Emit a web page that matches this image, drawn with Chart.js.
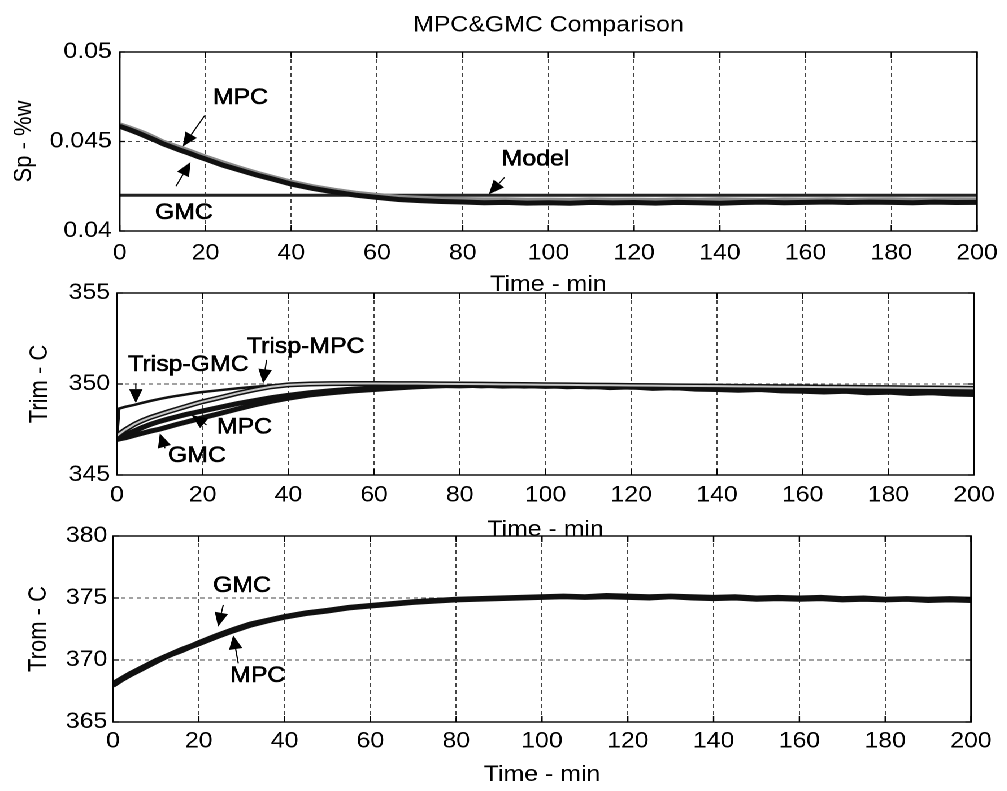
<!DOCTYPE html>
<html>
<head>
<meta charset="utf-8">
<title>MPC&amp;GMC Comparison</title>
<script src="https://cdn.jsdelivr.net/npm/chart.js@4.4.1/dist/chart.umd.min.js"></script>
<style>
  html, body { margin: 0; padding: 0; background: #fff; overflow: hidden; }
  /* the scanned figure is stretched sideways, so the whole page is too */
  #page { position: relative; width: 892px; height: 791px; transform: scaleX(1.13); transform-origin: 0 0; }
  #page canvas { position: absolute; left: 0; }
</style>
</head>
<body>
<div id="page">
  <canvas id="spChart" width="892" height="300" style="top:0px"></canvas>
  <canvas id="trimChart" width="892" height="290" style="top:260px"></canvas>
  <canvas id="tromChart" width="892" height="291" style="top:500px"></canvas>
</div>
<script>
// values
var timeMin = [0,2,4,6,8,10,12,14,16,18,20,24,28,32,36,40,45,50,55,60,65,70,75,80,85,90,95,100,105,110,115,120,125,130,135,140,145,150,155,160,165,170,175,180,185,190,195,200];
var timeTrim = [0,0.5,2,4,6,8,10,12,14,16,18,20,24,28,32,36,40,45,50,55,60,65,70,75,80,85,90,95,100,105,110,115,120,125,130,135,140,145,150,155,160,165,170,175,180,185,190,195,200];
var timeModel = [0, 200];
var xTicks = [0,20,40,60,80,100,120,140,160,180,200];

// Sp - %w
var spMPC = [0.04590,0.04575,0.04558,0.04540,0.04518,0.04495,0.04478,0.04462,0.04445,0.04428,0.04410,0.04378,0.04348,0.04320,0.04295,0.04270,
  0.04245,0.04225,0.04208,0.04196,0.04186,0.04180,0.04176,0.04173,0.04171,0.04172,0.04169,0.04170,0.04168,0.04171,0.04169,0.04170,
  0.04168,0.04171,0.04169,0.04172,0.04170,0.04168,0.04171,0.04170,0.04172,0.04169,0.04171,0.04172,0.04170,0.04171,0.04172,0.04171];
var spGMC = [0.04585,0.04568,0.04550,0.04530,0.04510,0.04488,0.04470,0.04452,0.04436,0.04418,0.04402,0.04368,0.04340,0.04312,0.04288,0.04262,
  0.04238,0.04218,0.04200,0.04188,0.04176,0.04170,0.04165,0.04162,0.04158,0.04160,0.04156,0.04158,0.04155,0.04160,0.04157,0.04159,
  0.04156,0.04160,0.04158,0.04155,0.04159,0.04161,0.04158,0.04160,0.04162,0.04159,0.04161,0.04160,0.04158,0.04161,0.04159,0.04160];
var spModel = [0.0420, 0.0420];
var spTicks = [0.04, 0.045, 0.05];
var spTickLabels = ["0.04", "0.045", "0.05"];

// Trim - C
var trispGMC = [347.0,348.65,348.75,348.85,348.97,349.08,349.18,349.27,349.35,349.42,349.50,349.56,349.66,349.76,349.84,349.92,349.98,
  350.02,350.04,350.05,350.05,350.04,350.04,350.03,350.02,350.01,350.00,349.99,349.98,349.97,349.96,349.95,349.94,
  349.93,349.92,349.91,349.90,349.89,349.88,349.87,349.86,349.85,349.84,349.83,349.82,349.81,349.80,349.79,349.78];
var trispMPC = [347.15,347.25,347.50,347.78,348.00,348.18,348.33,348.48,348.62,348.76,348.90,349.03,349.25,349.48,349.68,349.85,349.95,
  350.00,350.02,350.03,350.03,350.02,350.02,350.01,350.00,349.99,349.98,349.97,349.96,349.95,349.94,349.93,349.92,
  349.91,349.90,349.89,349.88,349.87,349.86,349.85,349.84,349.83,349.82,349.81,349.80,349.79,349.78,349.77,349.76];
var trimMPC = [347.05,347.10,347.22,347.42,347.62,347.80,347.95,348.08,348.20,348.32,348.42,348.52,348.72,348.92,349.08,349.25,349.38,
  349.52,349.63,349.72,349.78,349.84,349.88,349.92,349.90,349.93,349.88,349.91,349.87,349.90,349.84,349.86,349.82,
  349.85,349.78,349.80,349.76,349.72,349.74,349.70,349.66,349.70,349.65,349.62,349.66,349.60,349.62,349.56,349.58];
var trimGMC = [346.95,346.98,347.05,347.18,347.30,347.42,347.52,347.65,347.78,347.90,348.02,348.15,348.38,348.62,348.85,349.05,349.22,
  349.40,349.52,349.62,349.70,349.78,349.85,349.90,349.95,349.90,349.94,349.88,349.92,349.85,349.88,349.80,349.84,
  349.76,349.80,349.72,349.70,349.66,349.70,349.62,349.60,349.56,349.60,349.52,349.55,349.48,349.52,349.45,349.42];
var trimTicks = [345, 350, 355];
var trimTickLabels = ["345", "350", "355"];

// Trom - C
var tromGMC = [368.1,368.5,368.9,369.25,369.6,369.95,370.25,370.55,370.85,371.1,371.4,371.95,372.45,372.9,373.2,373.5,
  373.8,374.0,374.25,374.4,374.55,374.7,374.8,374.9,374.95,375.0,375.05,375.1,375.15,375.1,375.2,375.15,
  375.1,375.15,375.1,375.05,375.1,375.0,375.05,375.0,375.05,374.95,375.0,374.9,374.95,374.9,374.95,374.9];
var tromMPC = [367.95,368.4,368.8,369.15,369.5,369.85,370.2,370.5,370.75,371.05,371.3,371.85,372.35,372.8,373.15,373.45,
  373.75,373.95,374.2,374.35,374.5,374.65,374.75,374.85,374.9,374.95,375.0,375.05,375.1,375.05,375.1,375.05,
  375.0,375.1,375.0,374.95,375.0,374.9,374.95,374.9,374.95,374.85,374.9,374.85,374.9,374.8,374.85,374.8];
var tromTicks = [365, 370, 375, 380];
var tromTickLabels = ["365", "370", "375", "380"];

// callouts: text anchor (left, middle) and arrow from -> to, in data units
var spNotes = [
  { text: "MPC",   at: [21.7, 0.04744], from: [19.8, 0.04644], to: [14.7, 0.04472] },
  { text: "GMC",   at: [8.2, 0.0410],   from: [13.1, 0.0425],  to: [16.5, 0.04385] },
  { text: "Model", at: [89.1, 0.0440],  from: [89.8, 0.0430],  to: [86.1, 0.04205] }
];
var trimNotes = [
  { text: "Trisp-GMC", at: [2.6, 351.04],  from: [4.4, 350.04],  to: [4.4, 348.95] },
  { text: "Trisp-MPC", at: [30.3, 352.03], from: [34.9, 351.32], to: [34.1, 350.04] },
  { text: "MPC",       at: [23.3, 347.61], from: [20.9, 347.75], to: [17.4, 348.30] },
  { text: "GMC",       at: [11.9, 346.04], from: [11.2, 346.47], to: [10.0, 347.29] }
];
var tromNotes = [
  { text: "GMC", at: [23.3, 375.97], from: [25.7, 374.44], to: [24.5, 372.69] },
  { text: "MPC", at: [27.3, 368.7],  from: [29.2, 369.73], to: [28.0, 372.0] }
];

var FONT = '"Liberation Sans", Arial, Helvetica, sans-serif';
Chart.defaults.font.family = FONT;
Chart.defaults.font.size = 22;
Chart.defaults.color = "#000";

function pts(xs, ys) {
  return xs.map(function (x, i) { return { x: x, y: ys[i] }; });
}

function line(data, color, width, order) {
  return { data: data, borderColor: color, borderWidth: width, pointRadius: 0,
           fill: false, tension: 0, order: order };
}

function arrow(ctx, x0, y0, x1, y1) {
  var ang = Math.atan2(y1 - y0, x1 - x0), len = 14, hw = 6;
  ctx.beginPath();
  ctx.moveTo(x0, y0);
  ctx.lineTo(x1 - Math.cos(ang) * len, y1 - Math.sin(ang) * len);
  ctx.stroke();
  ctx.beginPath();
  ctx.moveTo(x1, y1);
  ctx.lineTo(x1 - Math.cos(ang) * len - Math.sin(ang) * hw, y1 - Math.sin(ang) * len + Math.cos(ang) * hw);
  ctx.lineTo(x1 - Math.cos(ang) * len + Math.sin(ang) * hw, y1 - Math.sin(ang) * len - Math.cos(ang) * hw);
  ctx.closePath();
  ctx.fill();
}

// box, inward ticks and the callout labels
var framePlugin = {
  id: "frame",
  afterDraw: function (chart, args, opts) {
    var a = chart.chartArea, ctx = chart.ctx, xs = chart.scales.x, ys = chart.scales.y;
    ctx.save();
    ctx.setLineDash([]);
    ctx.strokeStyle = "#000";
    ctx.fillStyle = "#000";
    ctx.lineWidth = 1.4;
    ctx.strokeRect(a.left, a.top, a.right - a.left, a.bottom - a.top);
    ctx.lineWidth = 1.2;
    ctx.beginPath();
    xs.ticks.forEach(function (t) {
      var px = xs.getPixelForValue(t.value);
      ctx.moveTo(px, a.bottom); ctx.lineTo(px, a.bottom - 6);
      ctx.moveTo(px, a.top); ctx.lineTo(px, a.top + 6);
    });
    ys.ticks.forEach(function (t) {
      var py = ys.getPixelForValue(t.value);
      ctx.moveTo(a.left, py); ctx.lineTo(a.left + 5, py);
      ctx.moveTo(a.right, py); ctx.lineTo(a.right - 5, py);
    });
    ctx.stroke();

    ctx.font = "22px " + FONT;
    ctx.textBaseline = "middle";
    ctx.textAlign = "left";
    ctx.lineWidth = 0.6;
    (opts.notes || []).forEach(function (n) {
      var tx = xs.getPixelForValue(n.at[0]), ty = ys.getPixelForValue(n.at[1]);
      ctx.fillText(n.text, tx, ty);
      ctx.strokeText(n.text, tx, ty);
      ctx.lineWidth = 1.1;
      arrow(ctx, xs.getPixelForValue(n.from[0]), ys.getPixelForValue(n.from[1]),
                 xs.getPixelForValue(n.to[0]), ys.getPixelForValue(n.to[1]));
      ctx.lineWidth = 0.6;
    });
    ctx.restore();
  }
};

function makeChart(id, c) {
  return new Chart(document.getElementById(id).getContext("2d"), {
    type: "line",
    data: { datasets: c.datasets },
    plugins: [framePlugin],
    options: {
      responsive: false,
      animation: false,
      devicePixelRatio: 2,
      events: [],
      layout: { padding: { left: 0, right: c.padRight, top: c.padTop, bottom: 0 } },
      plugins: {
        legend: { display: false },
        tooltip: { enabled: false },
        title: c.title ? {
          display: true, text: c.title, fullSize: false, color: "#000",
          font: { size: 22, weight: "normal", lineHeight: 1.2 },
          padding: { top: 12, bottom: 13.6 }
        } : { display: false },
        frame: { notes: c.notes }
      },
      scales: {
        x: {
          type: "linear", min: 0, max: 200,
          afterBuildTicks: function (s) { s.ticks = xTicks.map(function (v) { return { value: v }; }); },
          afterFit: function (s) { s.height = c.xAxisH; },
          ticks: { padding: c.xTickPad, maxRotation: 0, autoSkip: false, color: "#000",
                   callback: function (v) { return String(v); } },
          grid: { color: "#444", lineWidth: 1, drawTicks: false },
          border: { display: false, dash: [4, 3] },
          title: { display: true, text: "Time - min", color: "#000",
                   font: { size: 22, lineHeight: 1.2 }, padding: { top: 0, bottom: c.xTitlePad } }
        },
        y: {
          type: "linear", min: c.yTicks[0], max: c.yTicks[c.yTicks.length - 1],
          afterBuildTicks: function (s) { s.ticks = c.yTicks.map(function (v) { return { value: v }; }); },
          afterFit: function (s) { s.width = c.left; },
          ticks: { padding: c.yTickPad, autoSkip: false, color: "#000",
                   callback: function (v, i) { return c.yLabels[i]; } },
          grid: { color: "#444", lineWidth: 1, drawTicks: false },
          border: { display: false, dash: [4, 3] },
          title: { display: true, text: c.yTitle, color: "#000",
                   font: { size: 22, lineHeight: 1.2 }, padding: { top: c.yTitlePad, bottom: 0 } }
        }
      }
    }
  });
}

makeChart("spChart", {
  title: "MPC&GMC Comparison",
  left: 106, padRight: 27, padTop: 0, xAxisH: 69,
  xTickPad: 9, yTickPad: 7, xTitlePad: 2, yTitlePad: 8,
  yTicks: spTicks, yLabels: spTickLabels, yTitle: "Sp - %w",
  notes: spNotes,
  datasets: [
    line(pts(timeMin, spGMC), "#111", 5, 1),
    line(pts(timeMin, spMPC), "#8a8a8a", 6, 2),
    line(pts(timeModel, spModel), "#222", 3, 3)
  ]
});

makeChart("trimChart", {
  left: 103.5, padRight: 30, padTop: 33, xAxisH: 75,
  xTickPad: 7, yTickPad: 6, xTitlePad: 7, yTitlePad: 22,
  yTicks: trimTicks, yLabels: trimTickLabels, yTitle: "Trim - C",
  notes: trimNotes,
  datasets: [
    line(pts(timeTrim, trispMPC), "#c8c8c8", 2, 1),
    line(pts(timeTrim, trispMPC), "#111", 5, 2),
    line(pts(timeTrim, trispGMC), "#111", 2.5, 3),
    line(pts(timeTrim, trimMPC), "#111", 5, 4),
    line(pts(timeTrim, trimGMC), "#111", 5, 5)
  ]
});

makeChart("tromChart", {
  left: 100, padRight: 32.7, padTop: 36, xAxisH: 69,
  xTickPad: 6, yTickPad: 5, xTitlePad: 3, yTitlePad: 21,
  yTicks: tromTicks, yLabels: tromTickLabels, yTitle: "Trom - C",
  notes: tromNotes,
  datasets: [
    line(pts(timeMin, tromMPC), "#111", 5, 1),
    line(pts(timeMin, tromGMC), "#111", 5, 2)
  ]
});
</script>
</body>
</html>
